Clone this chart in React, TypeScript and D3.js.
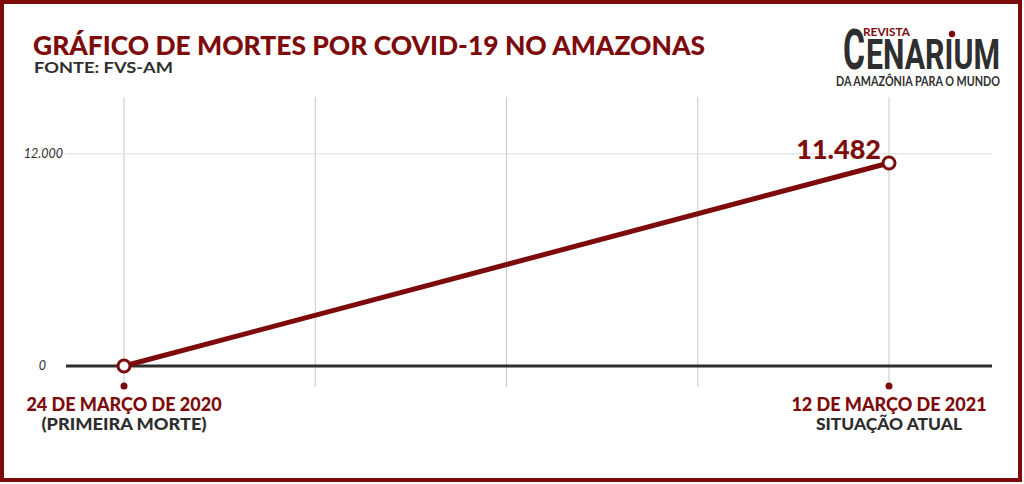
import React from "react";
import * as d3 from "d3";

const W = 1024;
const H = 484;

const dates = ["2020-03-24", "2021-03-12"];
const deaths = [0, 11482];
const yTicks = [0, 12000];
const dateLabels = ["24 DE MARÇO DE 2020", "12 DE MARÇO DE 2021"];
const subLabels = ["(PRIMEIRA MORTE)", "SITUAÇÃO ATUAL"];
const subLabelWidths = [165, 146];
const gridCount = 5;

const RED = "#7d0b0b";
const DARK = "#2e2e2e";
const FONT = "Lato, 'Open Sans', sans-serif";
const NARROW = "'Liberation Sans Narrow', 'Roboto', sans-serif";

export default function App() {
  const parse = d3.timeParse("%Y-%m-%d");
  const pts = dates.map((d, i) => ({ date: parse(d) as Date, value: deaths[i] }));

  const x = d3
    .scaleTime()
    .domain(d3.extent(pts, (d) => d.date) as [Date, Date])
    .range([124, 889]);
  const y = d3.scaleLinear().domain([0, 12000]).range([366, 366 - (203 * 12000) / 11482]);

  const t0 = x.domain()[0].getTime();
  const t1 = x.domain()[1].getTime();
  const gridDates = d3.range(gridCount).map((i) => new Date(t0 + ((t1 - t0) * i) / (gridCount - 1)));

  const line = d3
    .line<{ date: Date; value: number }>()
    .x((d) => x(d.date))
    .y((d) => y(d.value));

  const fmt = (v: number) => d3.format(",")(v).replace(/,/g, ".");

  const last = pts[pts.length - 1];

  return (
    <svg width={W} height={H} style={{ position: "absolute", left: 0, top: 0, display: "block" }}>
      <rect x={0} y={0} width={W} height={H} fill="#fff" />
      <rect x={2} y={2} width={1018} height={478} fill="none" stroke={RED} strokeWidth={4} />

      {/* title */}
      <text x={33} y={55} fill={RED} fontFamily={FONT} fontWeight={900} fontSize={26} textLength={672} lengthAdjust="spacingAndGlyphs">
        GRÁFICO DE MORTES POR COVID-19 NO AMAZONAS
      </text>
      <text x={34} y={73} fill={DARK} fontFamily={FONT} fontWeight={700} fontSize={15} textLength={139} lengthAdjust="spacingAndGlyphs">
        FONTE: FVS-AM
      </text>

      {/* logo */}
      <text x={863} y={36} fill={RED} fontFamily={FONT} fontWeight={700} fontSize={12} textLength={47} lengthAdjust="spacingAndGlyphs">
        REVISTA
      </text>
      <text x={843} y={69} fill={DARK} fontFamily={NARROW} fontWeight={700} fontSize={56} textLength={22} lengthAdjust="spacingAndGlyphs">
        C
      </text>
      <text x={866} y={69} fill={DARK} fontFamily={NARROW} fontWeight={700} fontSize={43} textLength={134} lengthAdjust="spacingAndGlyphs">
        ENARIUM
      </text>
      <circle cx={952} cy={34} r={3.2} fill={RED} />
      <text x={836} y={85.5} fill={DARK} fontFamily={FONT} fontWeight={700} fontSize={12.5} textLength={164} lengthAdjust="spacingAndGlyphs">
        DA AMAZÔNIA PARA O MUNDO
      </text>

      {/* vertical grid */}
      {gridDates.map((d, i) => (
        <line key={i} x1={x(d)} x2={x(d)} y1={97} y2={i === 0 || i === gridCount - 1 ? 383 : 387} stroke="#c8c8c8" strokeWidth={1} />
      ))}

      {/* horizontal grid + y labels */}
      {yTicks.map((t) => (
        <g key={t}>
          {t !== 0 && <line x1={65} x2={992} y1={y(t)} y2={y(t)} stroke="#dcdcdc" strokeWidth={1} />}
          <text x={t === 0 ? 46 : 63} y={y(t) + 4} textAnchor="end" fill={DARK} fontFamily={FONT} fontStyle="italic" fontSize={12.5}>
            {fmt(t)}
          </text>
        </g>
      ))}
      <line x1={66} x2={992} y1={y(0)} y2={y(0)} stroke={DARK} strokeWidth={3} />

      {/* line */}
      <path d={line(pts) || ""} fill="none" stroke={RED} strokeWidth={5} strokeLinecap="round" />
      {pts.map((p, i) => (
        <circle key={i} cx={x(p.date)} cy={y(p.value)} r={6} fill="#fff" stroke={RED} strokeWidth={3} />
      ))}

      {/* value label */}
      <text x={x(last.date) - 8} y={y(last.value) - 4} textAnchor="end" fill={RED} fontFamily={FONT} fontWeight={900} fontSize={27}>
        {fmt(last.value)}
      </text>

      {/* bottom labels */}
      {pts.map((p, i) => (
        <g key={i}>
          <circle cx={x(p.date)} cy={386} r={3.5} fill={RED} />
          <text x={x(p.date)} y={411} textAnchor="middle" fill={RED} fontFamily={FONT} fontWeight={900} fontSize={18}>
            {dateLabels[i]}
          </text>
          <text x={x(p.date)} y={430} textAnchor="middle" fill={DARK} fontFamily={FONT} fontWeight={900} fontSize={17} textLength={subLabelWidths[i]} lengthAdjust="spacingAndGlyphs">
            {subLabels[i]}
          </text>
        </g>
      ))}
    </svg>
  );
}
